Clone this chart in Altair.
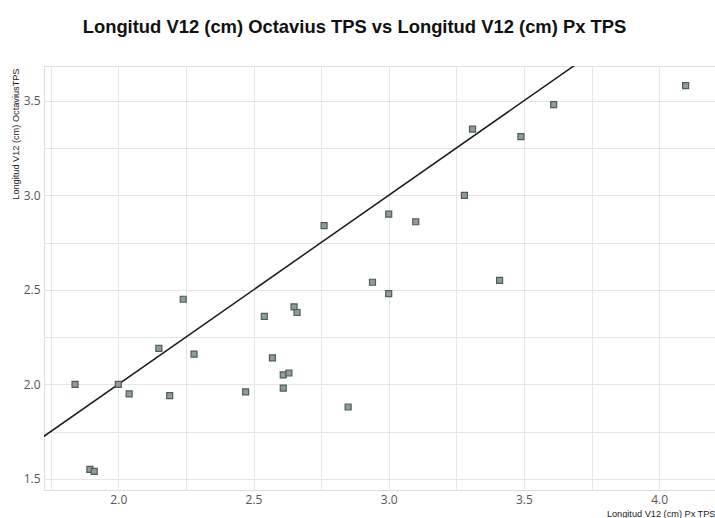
import altair as alt
import pandas as pd

px_tps = [1.84, 1.895, 1.911, 2.00, 2.04, 2.15, 2.19, 2.24, 2.28, 2.471,
          2.54, 2.57, 2.61, 2.631, 2.61, 2.65, 2.661, 2.85, 2.761, 2.94,
          3.00, 3.00, 3.10, 3.28, 3.31, 3.41, 3.489, 3.61, 4.098]
octavius_tps = [2.00, 1.55, 1.54, 2.00, 1.95, 2.19, 1.94, 2.45, 2.16, 1.96,
                2.36, 2.14, 2.05, 2.06, 1.98, 2.41, 2.38, 1.88, 2.84, 2.54,
                2.48, 2.90, 2.86, 3.00, 3.35, 2.55, 3.31, 3.48, 3.58]
line_x = [1.6, 3.9]
line_y = [1.6, 3.9]

pts = pd.DataFrame({"x": px_tps, "y": octavius_tps})
ref = pd.DataFrame({"x": line_x, "y": line_y})

tick_vals = [1.5 + 0.25 * i for i in range(12)]
label_expr = "round(datum.value*4) % 2 == 0 ? format(datum.value, '.1f') : ''"

xs = alt.Scale(domain=[1.7252, 4.2067], nice=False, zero=False)
ys = alt.Scale(domain=[1.441, 3.684], nice=False, zero=False)

TFONT = "Liberation Sans"

xaxis = alt.Axis(values=tick_vals, labelExpr=label_expr, grid=True, ticks=False,
                 domain=False, gridColor="#e6e6e6", gridWidth=1,
                 labelFont="Open Sans", labelFontSize=12, labelColor="#555555",
                 labelPadding=4, labelFlush=False,
                 title="Longitud V12 (cm) Px TPS", titleFont=TFONT,
                 titleFontSize=9.2, titleFontWeight="normal", titleColor="#222222",
                 titleAnchor="end", titleAlign="right", titleBaseline="alphabetic",
                 titleX=671, titleY=26)
yaxis = alt.Axis(values=tick_vals, labelExpr=label_expr, grid=True, ticks=False,
                 domain=False, gridColor="#e6e6e6", gridWidth=1,
                 labelFont="Open Sans", labelFontSize=12, labelColor="#555555",
                 labelPadding=4, labelFlush=False,
                 title="Longitud V12 (cm) OctaviusTPS", titleFont=TFONT,
                 titleFontSize=9.2, titleFontWeight="normal", titleColor="#222222",
                 titleAngle=270, titleAlign="right", titleBaseline="alphabetic",
                 titleX=-26, titleY=2)

points = alt.Chart(pts).mark_square(size=36, fill="#8f9c97", stroke="#4f5d58",
                                    strokeWidth=1.2, opacity=1).encode(
    x=alt.X("x:Q", scale=xs, axis=xaxis),
    y=alt.Y("y:Q", scale=ys, axis=yaxis),
)

line = alt.Chart(ref).mark_line(color="#1a1a1a", strokeWidth=1.5, clip=True).encode(
    x=alt.X("x:Q", scale=xs),
    y=alt.Y("y:Q", scale=ys),
)

chart = alt.layer(line, points).properties(
    width=671, height=424,
    title=alt.TitleParams(
        "Longitud V12 (cm) Octavius TPS vs Longitud V12 (cm) Px TPS",
        font=TFONT,
        fontSize=18.4, fontWeight="bold", color="#111111",
        anchor="middle", dx=-25, offset=15, baseline="alphabetic",
    ),
    autosize=alt.AutoSizeParams(type="none"),
    padding={"left": 44, "top": 66, "right": 0, "bottom": 28},
).configure_view(stroke=None).configure(background="white")

chart.save("out.html", embed_options={"renderer": "svg", "actions": False})
